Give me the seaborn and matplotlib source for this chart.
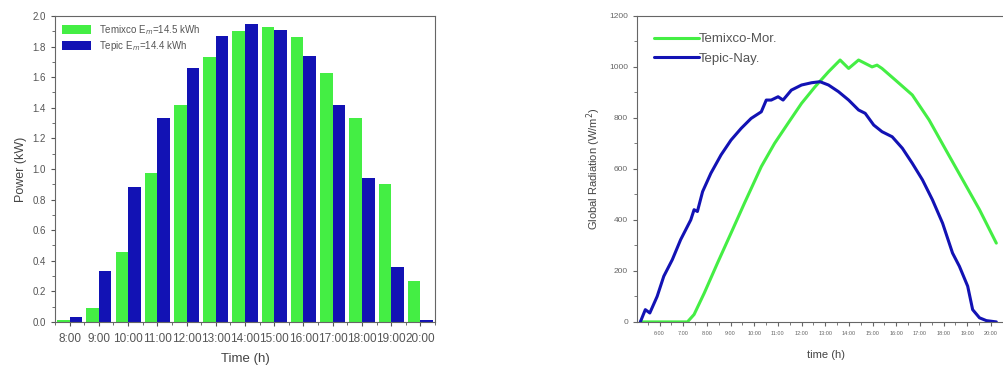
import numpy as np
import pandas as pd
import matplotlib
matplotlib.use("Agg")
import matplotlib.pyplot as plt
from matplotlib.ticker import MultipleLocator, FixedLocator
import seaborn as sns

# Left panel: hourly PV power
HOURS = ["8:00", "9:00", "10:00", "11:00", "12:00", "13:00", "14:00",
         "15:00", "16:00", "17:00", "18:00", "19:00", "20:00"]
TEMIXCO_KW = [0.01, 0.09, 0.46, 0.97, 1.42, 1.73, 1.90, 1.93, 1.86, 1.63, 1.33, 0.90, 0.27]
TEPIC_KW = [0.03, 0.33, 0.88, 1.33, 1.66, 1.87, 1.95, 1.91, 1.74, 1.42, 0.94, 0.36, 0.01]
BAR_LABELS = ["Temixco E$_{m}$=14.5 kWh", "Tepic E$_{m}$=14.4 kWh"]

# Right panel: global radiation curves
TEPIC_T = [5.19, 5.40, 5.59, 5.90, 6.18, 6.54, 6.89, 7.32, 7.46, 7.60, 7.82, 8.17, 8.60,
           9.02, 9.45, 9.87, 10.30, 10.51, 10.72, 11.01, 11.22, 11.57, 12.00, 12.43, 12.78,
           13.14, 13.56, 13.99, 14.41, 14.69, 15.05, 15.40, 15.83, 16.26, 16.68, 17.11,
           17.53, 17.96, 18.38, 18.67, 19.02, 19.23, 19.52, 19.81, 20.23]
TEPIC_RAD = [0, 48, 35, 100, 179, 244, 322, 400, 440, 433, 511, 583, 655, 713, 759, 798,
             824, 870, 870, 883, 870, 909, 929, 938, 942, 929, 903, 870, 831, 818, 772, 746,
             726, 681, 622, 557, 479, 387, 270, 218, 140, 48, 16, 5, 0]
TEMIXCO_T = [5.19, 7.18, 7.46, 7.89, 8.45, 9.02, 9.59, 10.30, 10.86, 11.43, 12.00, 12.57,
             13.14, 13.63, 13.99, 14.41, 14.98, 15.19, 15.40, 15.97, 16.68, 17.39, 18.10,
             18.81, 19.52, 20.23]
TEMIXCO_RAD = [0, 0, 29, 113, 231, 348, 466, 609, 700, 779, 857, 922, 981, 1027, 994,
               1027, 1000, 1007, 994, 948, 890, 792, 674, 557, 440, 309]
TIME_TICKS = list(range(6, 21))

GREEN = "#44ee44"
BLUE = "#1212b4"

sns.set_style("ticks")
plt.rcParams["font.family"] = ["Liberation Sans", "DejaVu Sans"]
plt.rcParams["xtick.direction"] = "out"
plt.rcParams["ytick.direction"] = "out"

bars = pd.DataFrame({
    "hour": HOURS * 2,
    "power": TEMIXCO_KW + TEPIC_KW,
    "site": [BAR_LABELS[0]] * len(HOURS) + [BAR_LABELS[1]] * len(HOURS),
})
rad = pd.DataFrame({
    "t": TEMIXCO_T + TEPIC_T,
    "rad": TEMIXCO_RAD + TEPIC_RAD,
    "site": ["Temixco-Mor."] * len(TEMIXCO_T) + ["Tepic-Nay."] * len(TEPIC_T),
})

fig = plt.figure(figsize=(10.04, 3.70), dpi=100)
ax1 = fig.add_axes([0.0548, 0.130, 0.3785, 0.827])
ax2 = fig.add_axes([0.6345, 0.130, 0.376, 0.827])

# 1. grouped bars
sns.barplot(data=bars, x="hour", y="power", hue="site", order=HOURS,
            palette=[GREEN, BLUE], width=0.86, saturation=1, ax=ax1,
            edgecolor="none")
ax1.set_xlim(-0.5, 12.5)
ax1.set_ylim(0, 2.0)
ax1.yaxis.set_major_locator(MultipleLocator(0.2))
ax1.yaxis.set_minor_locator(MultipleLocator(0.1))
ax1.xaxis.set_minor_locator(FixedLocator(np.arange(-0.5, 13, 1)))
ax1.yaxis.set_major_formatter(matplotlib.ticker.FormatStrFormatter("%.1f"))
ax1.tick_params(axis="y", labelsize=7, colors="#555555", length=3)
ax1.tick_params(axis="x", labelsize=8.5, colors="#555555", length=3, pad=5)
ax1.tick_params(which="minor", length=2, colors="#555555")
ax1.set_xlabel("Time (h)", fontsize=9.5, color="#444444", labelpad=6)
ax1.set_ylabel("Power (kW)", fontsize=9, color="#444444")
for s in ax1.spines.values():
    s.set_color("#666666")
leg = ax1.legend(loc="upper left", frameon=False, fontsize=7, handlelength=3.0,
                 handleheight=1.1, borderaxespad=0.3, labelspacing=0.25)
for t in leg.get_texts():
    t.set_color("#555555")

# 2. radiation lines
sns.lineplot(data=rad, x="t", y="rad", hue="site", palette=[GREEN, BLUE],
             linewidth=2.2, ax=ax2, sort=False)
ax2.set_xlim(5.05, 21.0)
ax2.set_ylim(0, 1200)
ax2.set_xticks(TIME_TICKS)
ax2.set_xticklabels([f"{h}:00" for h in TIME_TICKS])
ax2.xaxis.set_minor_locator(MultipleLocator(0.5))
ax2.yaxis.set_major_locator(MultipleLocator(200))
ax2.yaxis.set_minor_locator(MultipleLocator(100))
ax2.tick_params(axis="x", labelsize=4, colors="#666666", length=3)
ax2.tick_params(axis="y", labelsize=6, colors="#666666", length=3)
ax2.tick_params(which="minor", length=2, colors="#666666")
ax2.set_xlabel("time (h)", fontsize=8, color="#444444", labelpad=10)
ax2.set_ylabel("Global Radiation (W/m$^2$)", fontsize=8, color="#444444")
for s in ax2.spines.values():
    s.set_color("#666666")
leg2 = ax2.legend(loc="upper left", frameon=False, fontsize=9.5, handlelength=3.4,
                  borderaxespad=0.9, labelspacing=0.55, handletextpad=0.0)
for t in leg2.get_texts():
    t.set_color("#555555")

fig.savefig("out.png", dpi=100)
